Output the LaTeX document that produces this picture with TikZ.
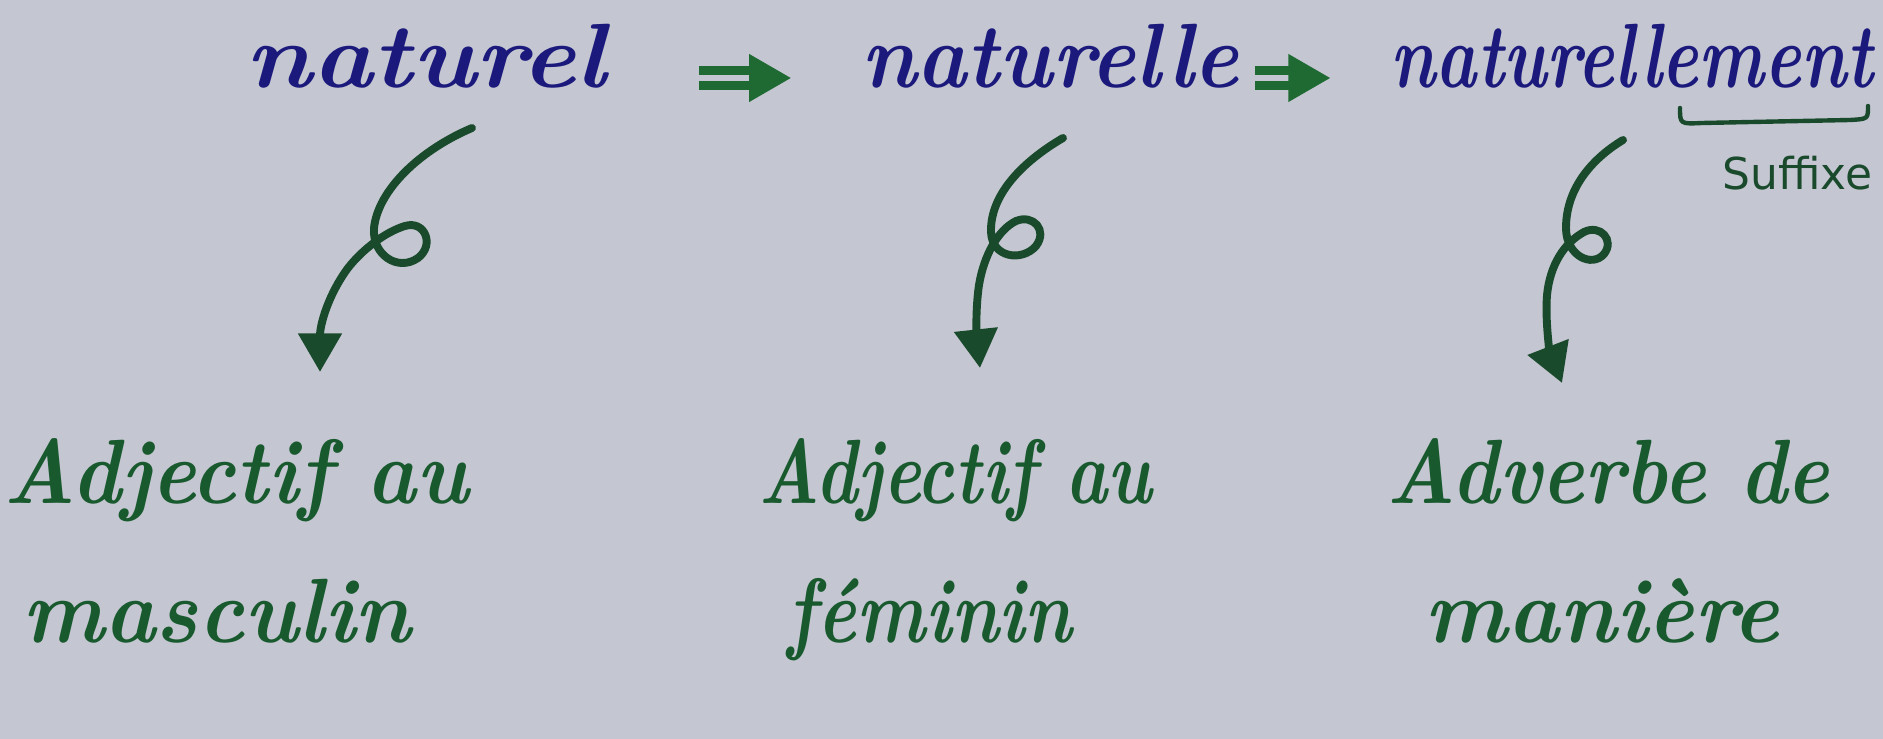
\documentclass[tikz,border=0pt]{standalone}
\usepackage{fontspec}
\usepackage{graphicx}
\newfontfamily\notefont{DejaVu Sans}
\usetikzlibrary{arrows.meta, calc, positioning}
\definecolor{fond}{HTML}{C4C6D2}
\definecolor{encre}{HTML}{1B1A7C}
\definecolor{vert}{HTML}{185A2D}
\definecolor{vertvif}{HTML}{1E6A32}
\definecolor{vertfonce}{HTML}{1A4A2C}
\tikzset{
  % mot ecrit au tableau
  mot/.style={text=encre, inner sep=0pt, anchor=base,
    font=\fontsize{52}{58}\selectfont\bfseries\itshape},
  % explication sous le mot
  expl/.style={text=vert, inner sep=0pt, anchor=base,
    font=\fontsize{52}{58}\selectfont\bfseries\itshape},
  % double fleche entre deux mots
  fleche/.style={draw=vertvif, line width=5pt, double=fond, double distance=3.4pt,
    -{Triangle[length=24pt, width=26pt]}},
  % fleche bouclee vers l'explication
  boucle/.style={draw=vertfonce, line width=4.5pt, line cap=round,
    -{Triangle[length=22pt, width=24pt]}},
  % petite note
  note/.style={text=vertfonce, inner sep=0pt, anchor=base west,
    font=\fontsize{25}{28}\selectfont\notefont},
}

\begin{document}
\begin{tikzpicture}[x=0.02cm, y=-0.02cm]
  \path[use as bounding box, fill=fond] (0,0) rectangle (1883,739);
  % les trois mots
  \node[mot] (nat) at (426,88) {\scalebox{1.12}[1]{naturel}};
  \node[mot] (natf) at (1050,88) {\scalebox{0.93}[1]{naturelle}};
  \node[mot] (natadv) at (1632,88) {\scalebox{0.76}[1]{naturellement}};
  % explications
  \node[expl] (adj1) at (236,504) {\scalebox{0.92}[1]{Adjectif au}};
  \node[expl] (mas) at (217,642) {\scalebox{0.95}[1]{masculin}};
  \node[expl] (adj2) at (955,504) {\scalebox{0.78}[1]{Adjectif au}};
  \node[expl] (fem) at (930,642) {\scalebox{0.8}[1]{féminin}};
  \node[expl] (adv) at (1608,504) {\scalebox{0.88}[1]{Adverbe de}};
  \node[expl] (man) at (1602,642) {\scalebox{0.96}[1]{manière}};
  % suffixe souligne
  \draw[vertfonce, line width=2.5pt, line cap=round]
    (1680,108) .. controls (1680,124) .. (1702,123) -- (1850,120)
    .. controls (1868,119) .. (1868,106);
  \node[note] (suf) at (1722,190) {Suffixe};
  \draw[fleche] ($(nat.base east)+(93,-10)$) -- ($(natf.base west)+(-70,-10)$);
  \draw[fleche] ($(natf.base east)+(16,-10)$) -- ($(natadv.base west)+(-60,-10)$);
  % fleches bouclees
  \coordinate (d1) at (472,128);
  \coordinate (f1) at (320,372);
  \coordinate (d2) at (1063,138);
  \coordinate (f2) at (980,368);
  \coordinate (d3) at (1623,140);
  \coordinate (f3) at (1562,383);
  \draw[boucle] (d1) .. controls (420,150) and (378,190) .. (374,228)
    .. controls (372,255) and (398,272) .. (418,258)
    .. controls (435,245) and (425,220) .. (405,226)
    .. controls (385,232) and (362,250) .. (348,268)
    .. controls (328,295) and (320,325) .. (f1);
  \draw[boucle] (d2) .. controls (1022,162) and (990,195) .. (991,232)
    .. controls (992,258) and (1022,262) .. (1036,246)
    .. controls (1048,230) and (1033,214) .. (1016,221)
    .. controls (998,230) and (984,255) .. (979,285)
    .. controls (975,312) and (977,340) .. (f2);
  \draw[boucle] (d3) .. controls (1590,160) and (1566,190) .. (1566,228)
    .. controls (1566,256) and (1592,268) .. (1604,254)
    .. controls (1615,240) and (1600,224) .. (1584,232)
    .. controls (1564,243) and (1550,265) .. (1547,295)
    .. controls (1545,322) and (1550,352) .. (f3);
\end{tikzpicture}
\end{document}
